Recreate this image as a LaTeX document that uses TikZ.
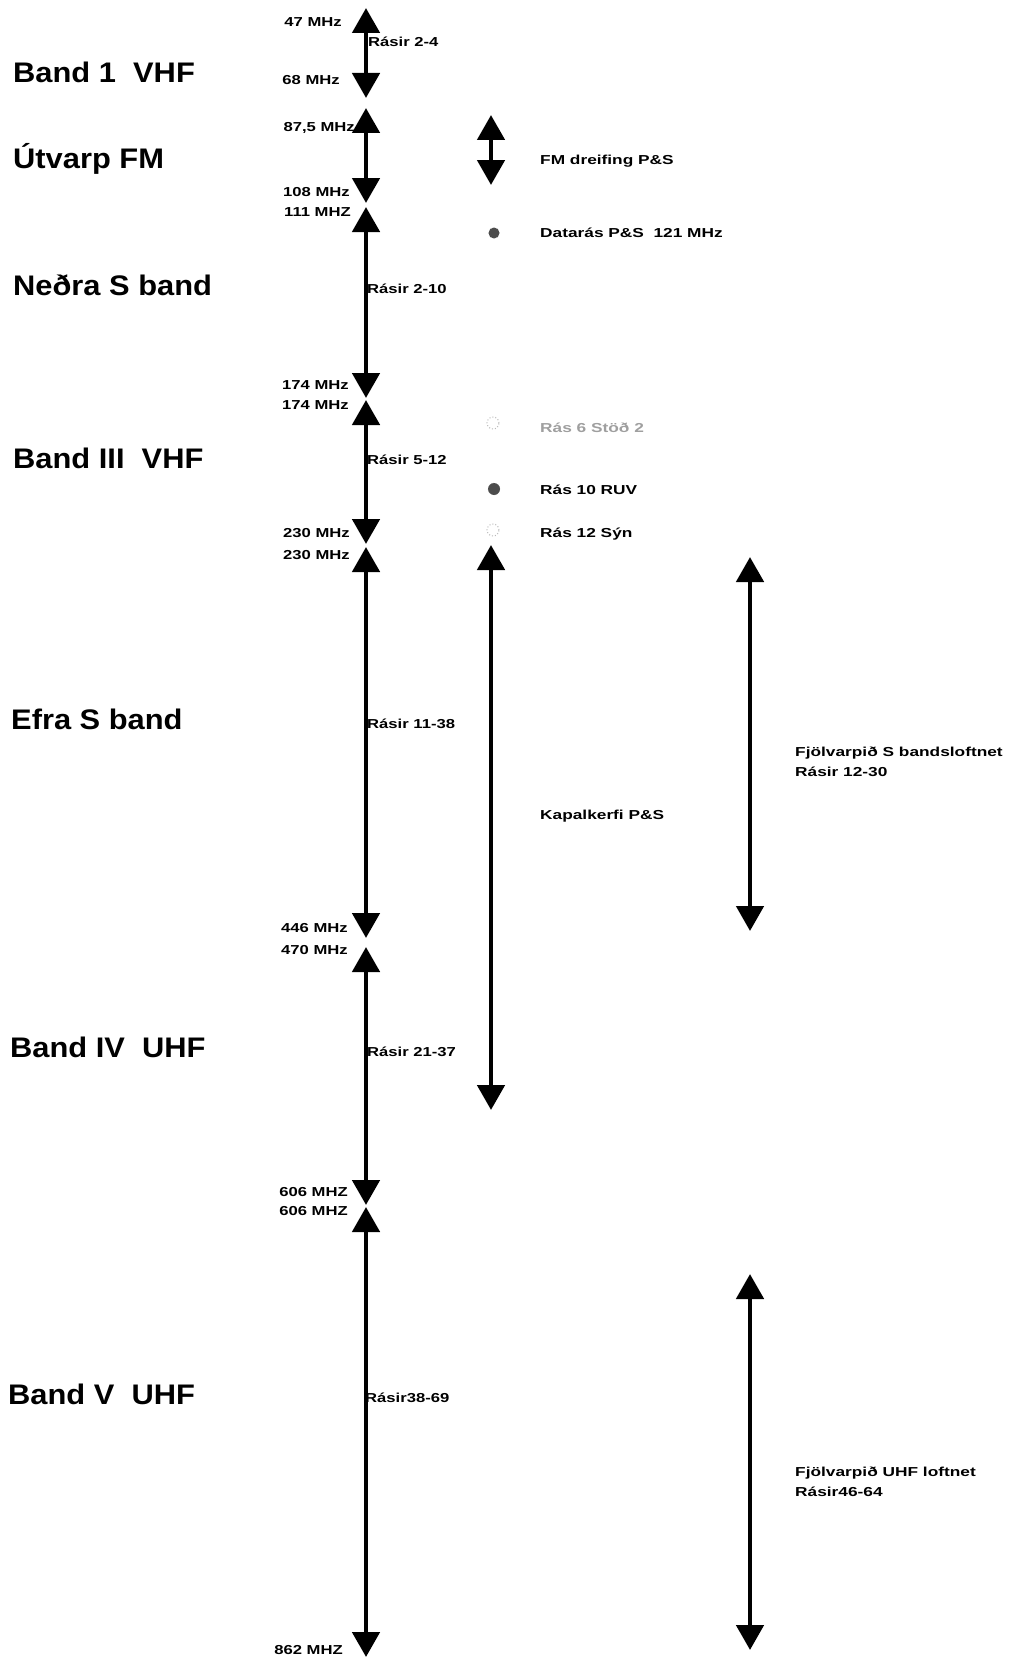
\documentclass[tikz,border=0pt]{standalone}
\usepackage{fontspec}
\usetikzlibrary{arrows.meta}
\newfontfamily\bigf[FakeStretch=1.09]{Liberation Sans}
\newfontfamily\smallf[FakeStretch=1.28]{Liberation Sans}
\newfontfamily\rightf[FakeStretch=1.33]{Liberation Sans}
\begin{document}
\begin{tikzpicture}[x=1pt,y=-1pt,
  big/.style={font=\bigf\bfseries\fontsize{28.3}{32}\selectfont, anchor=west, inner sep=0pt, text height=20pt, text depth=0pt},
  lab/.style={font=\smallf\bfseries\fontsize{13}{15}\selectfont, inner sep=0pt, text height=9.3pt, text depth=0pt},
  freq/.style={lab, anchor=east},
  ras/.style={lab, anchor=west},
  rtxt/.style={ras, font=\rightf\bfseries\fontsize{13}{15}\selectfont},
  dbl/.style={line width=4.8pt, {Triangle[width=27pt,length=25pt]}-{Triangle[width=27pt,length=25pt]}},
  faintdot/.style={draw=gray!55, dotted, line width=1pt},
  darkdot/.style={fill=black!70, draw=black!45, dotted}
]
\useasboundingbox (0,0) rectangle (1010,1659);
% band labels
\node[big] (b1) at (13,73) {Band 1~~VHF};
\node[big] (fm) at (13,158) {Útvarp FM};
\node[big] (ns) at (13,285) {Neðra S band};
\node[big] (b3) at (13,458) {Band III~~VHF};
\node[big] (es) at (11,719) {Efra S band};
\node[big] (b4) at (10,1047) {Band IV~~UHF};
\node[big] (b5) at (8,1394) {Band V~~UHF};
% main axis coordinates
\coordinate (a1t) at (366,8);
\coordinate (a1b) at (366,98);
\coordinate (a2t) at (366,108);
\coordinate (a2b) at (366,203);
\coordinate (a3t) at (366,207);
\coordinate (a3b) at (366,398);
\coordinate (a4t) at (366,400);
\coordinate (a4b) at (366,544);
\coordinate (a5t) at (366,547);
\coordinate (a5b) at (366,938);
\coordinate (a6t) at (366,947);
\coordinate (a6b) at (366,1205);
\coordinate (a7t) at (366,1207);
\coordinate (a7b) at (366,1657);
\draw[dbl] (a1t) -- (a1b);
\draw[dbl] (a2t) -- (a2b);
\draw[dbl] (a3t) -- (a3b);
\draw[dbl] (a4t) -- (a4b);
\draw[dbl] (a5t) -- (a5b);
\draw[dbl] (a6t) -- (a6b);
\draw[dbl] (a7t) -- (a7b);
% frequency labels
\node[freq] (f47) at (342,22) {47 MHz};
\node[freq] (f68) at (340,80) {68 MHz};
\node[freq] (f875) at (355,127) {87,5 MHz};
\node[freq] (f108) at (350,192) {108 MHz};
\node[freq] (f111) at (351,212) {111 MHZ};
\node[freq] (f174a) at (349,385) {174 MHz};
\node[freq] (f174b) at (349,405) {174 MHz};
\node[freq] (f230a) at (350,533) {230 MHz};
\node[freq] (f230b) at (350,555) {230 MHz};
\node[freq] (f446) at (348,928) {446 MHz};
\node[freq] (f470) at (348,950) {470 MHz};
\node[freq] (f606a) at (348,1192) {606 MHZ};
\node[freq] (f606b) at (348,1211) {606 MHZ};
\node[freq] (f862) at (343,1650) {862 MHZ};
% channel labels
\node[ras] (r1) at (368,42) {Rásir 2-4};
\node[ras] (r2) at (367,289) {Rásir 2-10};
\node[ras] (r3) at (367,460) {Rásir 5-12};
\node[ras] (r4) at (367,724) {Rásir 11-38};
\node[ras] (r5) at (367,1052) {Rásir 21-37};
\node[ras] (r6) at (365,1398) {Rásir38-69};
% FM distribution arrow
\coordinate (fmt) at (491,115);
\coordinate (fmb) at (491,185);
\draw[dbl] (fmt) -- (fmb);
\node[rtxt] (tfm) at (540,160) {FM dreifing P\&S};
% dots
\node[circle, minimum size=11pt, inner sep=0pt, darkdot] (d1) at (494,233) {};
\node[rtxt] (tdat) at (540,233) {Datarás P\&S~~121 MHz};
\node[circle, minimum size=12pt, inner sep=0pt, faintdot] (d2) at (493,423) {};
\node[rtxt, text=gray!75] (tr6) at (540,428) {Rás 6 Stöð 2};
\node[circle, minimum size=12pt, inner sep=0pt, darkdot] (d3) at (494,489) {};
\node[rtxt] (tr10) at (540,490) {Rás 10 RUV};
\node[circle, minimum size=12pt, inner sep=0pt, faintdot] (d4) at (493,530) {};
\node[rtxt] (tr12) at (540,533) {Rás 12 Sýn};
% cable arrow
\coordinate (kt) at (491,545);
\coordinate (kb) at (491,1110);
\draw[dbl] (kt) -- (kb);
\node[rtxt] (tk) at (540,815) {Kapalkerfi P\&S};
% Fjolvarp S
\coordinate (fst) at (750,557);
\coordinate (fsb) at (750,931);
\draw[dbl] (fst) -- (fsb);
\node[rtxt] (tfs1) at (795,752) {Fjölvarpið S bandsloftnet};
\node[rtxt] (tfs2) at (795,772) {Rásir 12-30};
% Fjolvarp UHF
\coordinate (fut) at (750,1274);
\coordinate (fub) at (750,1650);
\draw[dbl] (fut) -- (fub);
\node[rtxt] (tfu1) at (795,1472) {Fjölvarpið UHF loftnet};
\node[rtxt] (tfu2) at (795,1492) {Rásir46-64};
\end{tikzpicture}
\end{document}
